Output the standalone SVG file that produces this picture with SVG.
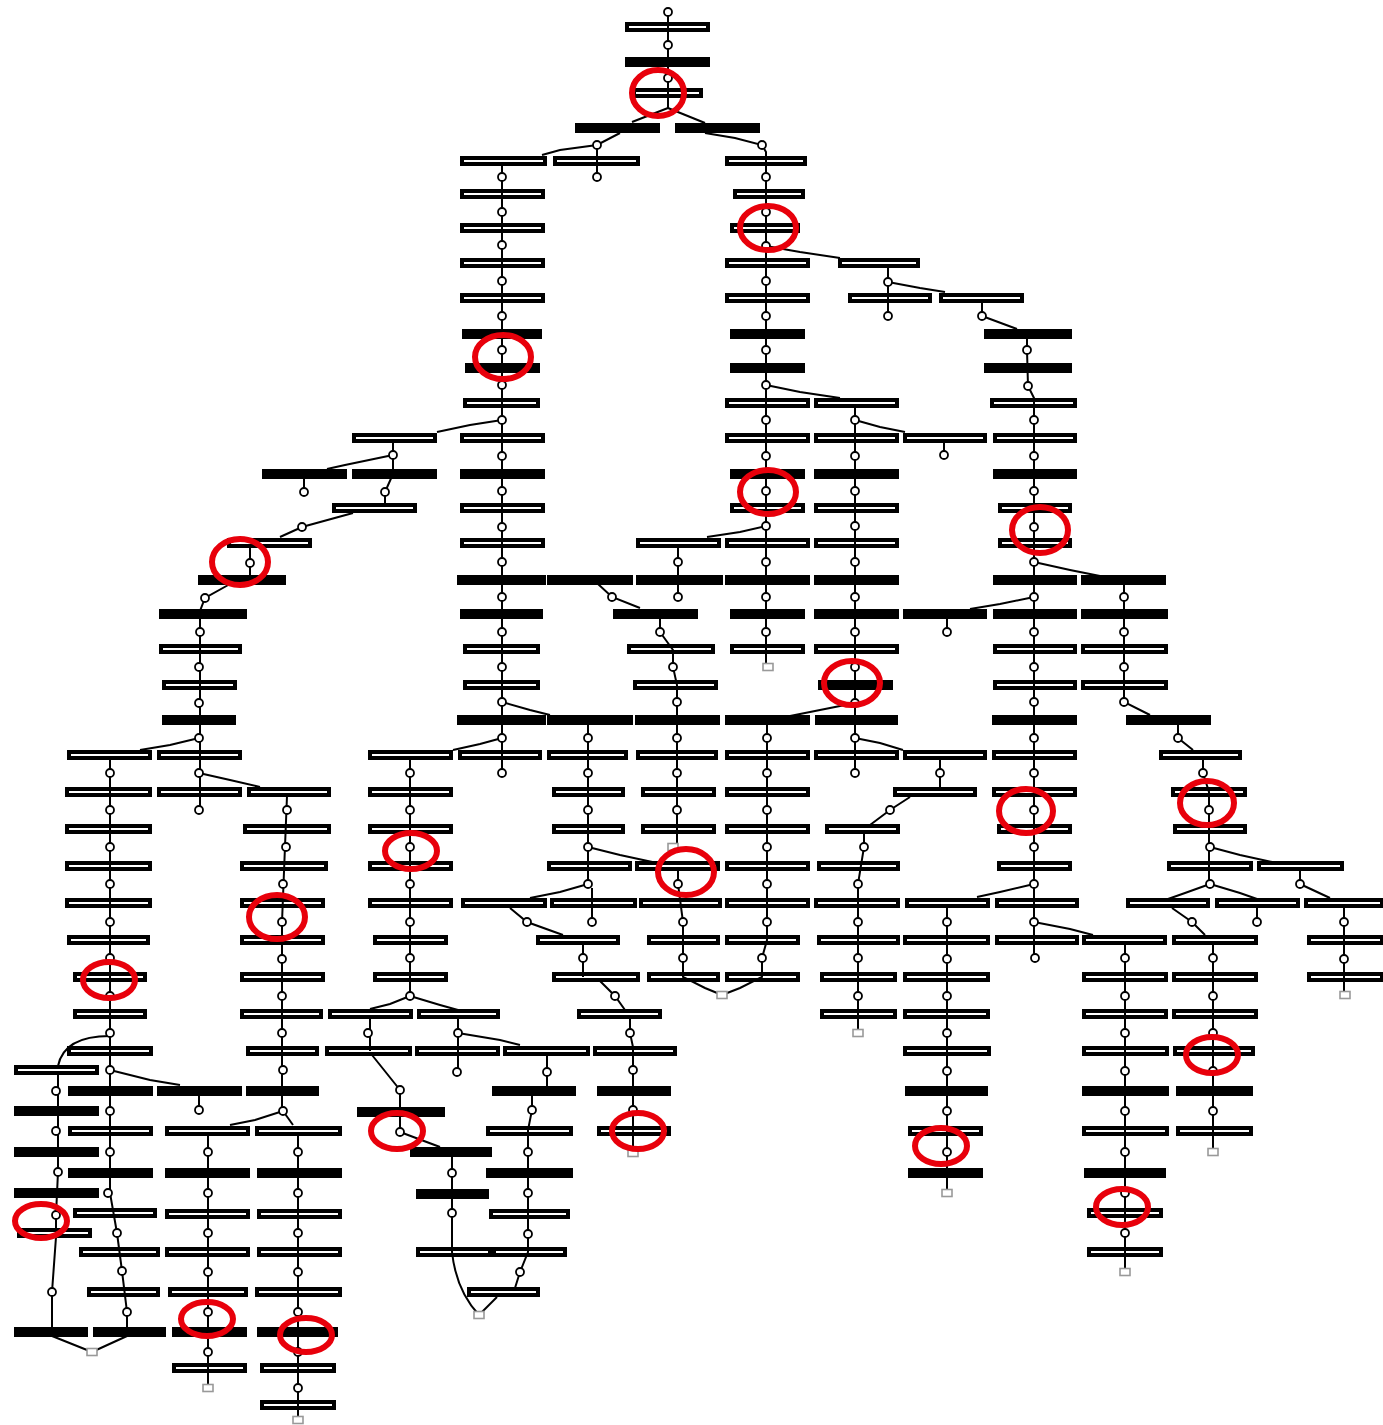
<svg xmlns="http://www.w3.org/2000/svg" xmlns:xlink="http://www.w3.org/1999/xlink" width="1383" height="1425" viewBox="0 0 1383 1425">
<style>
.h{fill:#fff;stroke:#000;stroke-width:4}
.f{fill:#000;stroke:#000;stroke-width:4}
#conn path{fill:none;stroke:#000;stroke-width:2}
.nd{fill:#fff;stroke:#000;stroke-width:1.8}
.gt{fill:#fff;stroke:#999;stroke-width:1.6}
#marks ellipse{fill:none;stroke:#e8000b;stroke-width:6}
</style>
<defs>
<circle id="n" r="4" class="nd"/>
<rect id="g" x="-5" y="-3.5" width="10" height="7" class="gt"/>
</defs>
<rect width="1383" height="1425" fill="#fff"/>
<g id="bars">
<g id="b1"><rect class="h" x="627" y="24" width="81" height="6"/></g>
<g id="b2"><rect class="f" x="627" y="59" width="81" height="6"/></g>
<g id="b3"><rect class="h" x="634" y="90" width="67" height="6"/></g>
<g id="b4"><rect class="f" x="577" y="125" width="81" height="6"/></g>
<g id="b5"><rect class="f" x="677" y="125" width="81" height="6"/></g>
<g id="b6"><rect class="h" x="462" y="158" width="83" height="6"/></g>
<g id="b7"><rect class="h" x="555" y="158" width="83" height="6"/></g>
<g id="b8"><rect class="h" x="727" y="158" width="78" height="6"/></g>
<g id="b9"><rect class="h" x="462" y="191" width="81" height="6"/></g>
<g id="b10"><rect class="h" x="462" y="225" width="81" height="6"/></g>
<g id="b11"><rect class="h" x="462" y="260" width="81" height="6"/></g>
<g id="b12"><rect class="h" x="462" y="295" width="81" height="6"/></g>
<g id="b13"><rect class="f" x="464" y="331" width="76" height="6"/></g>
<g id="b14"><rect class="f" x="467" y="365" width="71" height="6"/></g>
<g id="b15"><rect class="h" x="465" y="400" width="73" height="6"/></g>
<g id="b16"><rect class="h" x="462" y="435" width="81" height="6"/></g>
<g id="b17"><rect class="f" x="462" y="471" width="81" height="6"/></g>
<g id="b18"><rect class="h" x="462" y="505" width="81" height="6"/></g>
<g id="b19"><rect class="h" x="462" y="540" width="81" height="6"/></g>
<g id="b20"><rect class="f" x="459" y="577" width="85" height="6"/></g>
<g id="b21"><rect class="f" x="549" y="577" width="82" height="6"/></g>
<g id="b22"><rect class="f" x="638" y="577" width="83" height="6"/></g>
<g id="b23"><rect class="f" x="462" y="611" width="79" height="6"/></g>
<g id="b24"><rect class="h" x="465" y="646" width="73" height="6"/></g>
<g id="b25"><rect class="h" x="465" y="682" width="73" height="6"/></g>
<g id="b26"><rect class="f" x="459" y="717" width="85" height="6"/></g>
<g id="b27"><rect class="f" x="549" y="717" width="82" height="6"/></g>
<g id="b28"><rect class="f" x="637" y="717" width="81" height="6"/></g>
<g id="b29"><rect class="h" x="460" y="752" width="80" height="6"/></g>
<g id="b30"><rect class="h" x="735" y="191" width="68" height="6"/></g>
<g id="b31"><rect class="h" x="732" y="225" width="66" height="6"/></g>
<g id="b32"><rect class="h" x="727" y="260" width="81" height="6"/></g>
<g id="b33"><rect class="h" x="727" y="295" width="81" height="6"/></g>
<g id="b34"><rect class="f" x="732" y="331" width="71" height="6"/></g>
<g id="b35"><rect class="f" x="732" y="365" width="71" height="6"/></g>
<g id="b36"><rect class="h" x="727" y="400" width="81" height="6"/></g>
<g id="b37"><rect class="h" x="727" y="435" width="81" height="6"/></g>
<g id="b38"><rect class="f" x="732" y="471" width="71" height="6"/></g>
<g id="b39"><rect class="h" x="732" y="505" width="71" height="6"/></g>
<g id="b40"><rect class="h" x="727" y="540" width="81" height="6"/></g>
<g id="b41"><rect class="f" x="727" y="577" width="81" height="6"/></g>
<g id="b42"><rect class="f" x="732" y="611" width="71" height="6"/></g>
<g id="b43"><rect class="h" x="732" y="646" width="71" height="6"/></g>
<g id="b44"><rect class="f" x="727" y="717" width="81" height="6"/></g>
<g id="b45"><rect class="h" x="727" y="752" width="81" height="6"/></g>
<g id="b46"><rect class="h" x="727" y="789" width="81" height="6"/></g>
<g id="b47"><rect class="h" x="727" y="826" width="81" height="6"/></g>
<g id="b48"><rect class="h" x="727" y="863" width="81" height="6"/></g>
<g id="b49"><rect class="h" x="727" y="900" width="81" height="6"/></g>
<g id="b50"><rect class="h" x="727" y="937" width="71" height="6"/></g>
<g id="b51"><rect class="h" x="727" y="974" width="71" height="6"/></g>
<g id="b52"><rect class="h" x="840" y="260" width="78" height="6"/></g>
<g id="b53"><rect class="h" x="850" y="295" width="80" height="6"/></g>
<g id="b54"><rect class="h" x="941" y="295" width="81" height="6"/></g>
<g id="b55"><rect class="h" x="816" y="400" width="81" height="6"/></g>
<g id="b56"><rect class="h" x="816" y="435" width="81" height="6"/></g>
<g id="b57"><rect class="f" x="816" y="471" width="81" height="6"/></g>
<g id="b58"><rect class="h" x="816" y="505" width="81" height="6"/></g>
<g id="b59"><rect class="h" x="816" y="540" width="81" height="6"/></g>
<g id="b60"><rect class="f" x="816" y="577" width="81" height="6"/></g>
<g id="b61"><rect class="f" x="816" y="611" width="81" height="6"/></g>
<g id="b62"><rect class="h" x="816" y="646" width="81" height="6"/></g>
<g id="b63"><rect class="f" x="820" y="682" width="71" height="6"/></g>
<g id="b64"><rect class="f" x="817" y="717" width="79" height="6"/></g>
<g id="b65"><rect class="h" x="816" y="752" width="81" height="6"/></g>
<g id="b66"><rect class="h" x="905" y="435" width="80" height="6"/></g>
<g id="b67"><rect class="f" x="986" y="331" width="84" height="6"/></g>
<g id="b68"><rect class="f" x="986" y="365" width="84" height="6"/></g>
<g id="b69"><rect class="h" x="992" y="400" width="83" height="6"/></g>
<g id="b70"><rect class="h" x="995" y="435" width="80" height="6"/></g>
<g id="b71"><rect class="f" x="995" y="471" width="80" height="6"/></g>
<g id="b72"><rect class="h" x="1000" y="505" width="70" height="6"/></g>
<g id="b73"><rect class="h" x="1000" y="540" width="70" height="6"/></g>
<g id="b74"><rect class="f" x="995" y="577" width="80" height="6"/></g>
<g id="b75"><rect class="f" x="1083" y="577" width="81" height="6"/></g>
<g id="b76"><rect class="f" x="905" y="611" width="80" height="6"/></g>
<g id="b77"><rect class="f" x="995" y="611" width="80" height="6"/></g>
<g id="b78"><rect class="f" x="1083" y="611" width="83" height="6"/></g>
<g id="b79"><rect class="h" x="995" y="646" width="80" height="6"/></g>
<g id="b80"><rect class="h" x="1083" y="646" width="83" height="6"/></g>
<g id="b81"><rect class="h" x="995" y="682" width="80" height="6"/></g>
<g id="b82"><rect class="h" x="1083" y="682" width="83" height="6"/></g>
<g id="b83"><rect class="f" x="994" y="717" width="81" height="6"/></g>
<g id="b84"><rect class="f" x="1128" y="717" width="81" height="6"/></g>
<g id="b85"><rect class="h" x="994" y="752" width="81" height="6"/></g>
<g id="b86"><rect class="h" x="994" y="789" width="81" height="6"/></g>
<g id="b87"><rect class="h" x="999" y="826" width="71" height="6"/></g>
<g id="b88"><rect class="h" x="999" y="863" width="71" height="6"/></g>
<g id="b89"><rect class="h" x="997" y="900" width="80" height="6"/></g>
<g id="b90"><rect class="h" x="997" y="937" width="80" height="6"/></g>
<g id="b91"><rect class="h" x="1161" y="752" width="79" height="6"/></g>
<g id="b92"><rect class="h" x="1173" y="789" width="72" height="6"/></g>
<g id="b93"><rect class="h" x="1175" y="826" width="70" height="6"/></g>
<g id="b94"><rect class="h" x="1169" y="863" width="82" height="6"/></g>
<g id="b95"><rect class="h" x="1259" y="863" width="83" height="6"/></g>
<g id="b96"><rect class="h" x="1128" y="900" width="80" height="6"/></g>
<g id="b97"><rect class="h" x="1217" y="900" width="81" height="6"/></g>
<g id="b98"><rect class="h" x="1306" y="900" width="76" height="6"/></g>
<g id="b99"><rect class="h" x="1084" y="937" width="81" height="6"/></g>
<g id="b100"><rect class="h" x="1174" y="937" width="82" height="6"/></g>
<g id="b101"><rect class="h" x="1309" y="937" width="73" height="6"/></g>
<g id="b102"><rect class="h" x="1309" y="974" width="73" height="6"/></g>
<g id="b103"><rect class="h" x="1084" y="974" width="82" height="6"/></g>
<g id="b104"><rect class="h" x="1084" y="1011" width="82" height="6"/></g>
<g id="b105"><rect class="h" x="1084" y="1048" width="83" height="6"/></g>
<g id="b106"><rect class="f" x="1084" y="1088" width="83" height="6"/></g>
<g id="b107"><rect class="h" x="1084" y="1128" width="83" height="6"/></g>
<g id="b108"><rect class="f" x="1086" y="1170" width="78" height="6"/></g>
<g id="b109"><rect class="h" x="1089" y="1210" width="72" height="6"/></g>
<g id="b110"><rect class="h" x="1089" y="1249" width="72" height="6"/></g>
<g id="b111"><rect class="h" x="1174" y="974" width="82" height="6"/></g>
<g id="b112"><rect class="h" x="1174" y="1011" width="82" height="6"/></g>
<g id="b113"><rect class="h" x="1175" y="1048" width="78" height="6"/></g>
<g id="b114"><rect class="f" x="1178" y="1088" width="73" height="6"/></g>
<g id="b115"><rect class="h" x="1178" y="1128" width="73" height="6"/></g>
<g id="b116"><rect class="h" x="905" y="752" width="80" height="6"/></g>
<g id="b117"><rect class="h" x="895" y="789" width="80" height="6"/></g>
<g id="b118"><rect class="h" x="907" y="900" width="81" height="6"/></g>
<g id="b119"><rect class="h" x="905" y="937" width="83" height="6"/></g>
<g id="b120"><rect class="h" x="905" y="974" width="83" height="6"/></g>
<g id="b121"><rect class="h" x="905" y="1011" width="83" height="6"/></g>
<g id="b122"><rect class="h" x="905" y="1048" width="84" height="6"/></g>
<g id="b123"><rect class="f" x="907" y="1088" width="79" height="6"/></g>
<g id="b124"><rect class="h" x="910" y="1128" width="71" height="6"/></g>
<g id="b125"><rect class="f" x="910" y="1170" width="71" height="6"/></g>
<g id="b126"><rect class="h" x="827" y="826" width="71" height="6"/></g>
<g id="b127"><rect class="h" x="819" y="863" width="79" height="6"/></g>
<g id="b128"><rect class="h" x="816" y="900" width="82" height="6"/></g>
<g id="b129"><rect class="h" x="819" y="937" width="79" height="6"/></g>
<g id="b130"><rect class="h" x="822" y="974" width="73" height="6"/></g>
<g id="b131"><rect class="h" x="822" y="1011" width="73" height="6"/></g>
<g id="b132"><rect class="f" x="615" y="611" width="81" height="6"/></g>
<g id="b133"><rect class="h" x="629" y="646" width="84" height="6"/></g>
<g id="b134"><rect class="h" x="635" y="682" width="81" height="6"/></g>
<g id="b135"><rect class="h" x="638" y="540" width="81" height="6"/></g>
<g id="b136"><rect class="h" x="549" y="752" width="77" height="6"/></g>
<g id="b137"><rect class="h" x="638" y="752" width="78" height="6"/></g>
<g id="b138"><rect class="h" x="554" y="789" width="69" height="6"/></g>
<g id="b139"><rect class="h" x="643" y="789" width="71" height="6"/></g>
<g id="b140"><rect class="h" x="554" y="826" width="69" height="6"/></g>
<g id="b141"><rect class="h" x="643" y="826" width="71" height="6"/></g>
<g id="b142"><rect class="h" x="549" y="863" width="81" height="6"/></g>
<g id="b143"><rect class="h" x="637" y="863" width="81" height="6"/></g>
<g id="b144"><rect class="h" x="463" y="900" width="82" height="6"/></g>
<g id="b145"><rect class="h" x="552" y="900" width="83" height="6"/></g>
<g id="b146"><rect class="h" x="641" y="900" width="79" height="6"/></g>
<g id="b147"><rect class="h" x="538" y="937" width="80" height="6"/></g>
<g id="b148"><rect class="h" x="649" y="937" width="69" height="6"/></g>
<g id="b149"><rect class="h" x="554" y="974" width="84" height="6"/></g>
<g id="b150"><rect class="h" x="649" y="974" width="69" height="6"/></g>
<g id="b151"><rect class="h" x="579" y="1011" width="81" height="6"/></g>
<g id="b152"><rect class="h" x="595" y="1048" width="80" height="6"/></g>
<g id="b153"><rect class="f" x="599" y="1088" width="70" height="6"/></g>
<g id="b154"><rect class="h" x="599" y="1128" width="70" height="6"/></g>
<g id="b155"><rect class="h" x="370" y="752" width="81" height="6"/></g>
<g id="b156"><rect class="h" x="370" y="789" width="81" height="6"/></g>
<g id="b157"><rect class="h" x="370" y="826" width="81" height="6"/></g>
<g id="b158"><rect class="h" x="370" y="863" width="81" height="6"/></g>
<g id="b159"><rect class="h" x="370" y="900" width="81" height="6"/></g>
<g id="b160"><rect class="h" x="375" y="937" width="71" height="6"/></g>
<g id="b161"><rect class="h" x="375" y="974" width="71" height="6"/></g>
<g id="b162"><rect class="h" x="330" y="1011" width="81" height="6"/></g>
<g id="b163"><rect class="h" x="419" y="1011" width="79" height="6"/></g>
<g id="b164"><rect class="h" x="327" y="1048" width="83" height="6"/></g>
<g id="b165"><rect class="h" x="417" y="1048" width="81" height="6"/></g>
<g id="b166"><rect class="h" x="505" y="1048" width="83" height="6"/></g>
<g id="b167"><rect class="f" x="359" y="1109" width="84" height="6"/></g>
<g id="b168"><rect class="f" x="412" y="1149" width="78" height="6"/></g>
<g id="b169"><rect class="f" x="418" y="1191" width="69" height="6"/></g>
<g id="b170"><rect class="h" x="418" y="1249" width="72" height="6"/></g>
<g id="b171"><rect class="h" x="494" y="1249" width="71" height="6"/></g>
<g id="b172"><rect class="h" x="469" y="1289" width="69" height="6"/></g>
<g id="b173"><rect class="f" x="494" y="1088" width="80" height="6"/></g>
<g id="b174"><rect class="h" x="488" y="1128" width="83" height="6"/></g>
<g id="b175"><rect class="f" x="488" y="1170" width="83" height="6"/></g>
<g id="b176"><rect class="h" x="491" y="1211" width="77" height="6"/></g>
<g id="b177"><rect class="h" x="354" y="435" width="81" height="6"/></g>
<g id="b178"><rect class="f" x="264" y="471" width="81" height="6"/></g>
<g id="b179"><rect class="f" x="354" y="471" width="81" height="6"/></g>
<g id="b180"><rect class="h" x="334" y="505" width="81" height="6"/></g>
<g id="b181"><rect class="h" x="229" y="540" width="81" height="6"/></g>
<g id="b182"><rect class="f" x="200" y="577" width="84" height="6"/></g>
<g id="b183"><rect class="f" x="161" y="611" width="84" height="6"/></g>
<g id="b184"><rect class="h" x="161" y="646" width="79" height="6"/></g>
<g id="b185"><rect class="h" x="164" y="682" width="71" height="6"/></g>
<g id="b186"><rect class="f" x="164" y="717" width="70" height="6"/></g>
<g id="b187"><rect class="h" x="69" y="752" width="81" height="6"/></g>
<g id="b188"><rect class="h" x="159" y="752" width="81" height="6"/></g>
<g id="b189"><rect class="h" x="67" y="789" width="83" height="6"/></g>
<g id="b190"><rect class="h" x="159" y="789" width="81" height="6"/></g>
<g id="b191"><rect class="h" x="249" y="789" width="80" height="6"/></g>
<g id="b192"><rect class="h" x="67" y="826" width="83" height="6"/></g>
<g id="b193"><rect class="h" x="67" y="863" width="83" height="6"/></g>
<g id="b194"><rect class="h" x="67" y="900" width="83" height="6"/></g>
<g id="b195"><rect class="h" x="69" y="937" width="79" height="6"/></g>
<g id="b196"><rect class="h" x="75" y="974" width="70" height="6"/></g>
<g id="b197"><rect class="h" x="75" y="1011" width="70" height="6"/></g>
<g id="b198"><rect class="h" x="69" y="1048" width="82" height="6"/></g>
<g id="b199"><rect class="f" x="70" y="1088" width="81" height="6"/></g>
<g id="b200"><rect class="f" x="159" y="1088" width="81" height="6"/></g>
<g id="b201"><rect class="f" x="248" y="1088" width="69" height="6"/></g>
<g id="b202"><rect class="h" x="70" y="1128" width="81" height="6"/></g>
<g id="b203"><rect class="f" x="70" y="1170" width="81" height="6"/></g>
<g id="b204"><rect class="h" x="75" y="1210" width="80" height="6"/></g>
<g id="b205"><rect class="h" x="81" y="1249" width="77" height="6"/></g>
<g id="b206"><rect class="h" x="89" y="1289" width="69" height="6"/></g>
<g id="b207"><rect class="f" x="95" y="1329" width="69" height="6"/></g>
<g id="b208"><rect class="h" x="16" y="1067" width="81" height="6"/></g>
<g id="b209"><rect class="f" x="16" y="1108" width="81" height="6"/></g>
<g id="b210"><rect class="f" x="16" y="1149" width="81" height="6"/></g>
<g id="b211"><rect class="f" x="16" y="1190" width="81" height="6"/></g>
<g id="b212"><rect class="h" x="19" y="1230" width="71" height="6"/></g>
<g id="b213"><rect class="f" x="16" y="1329" width="70" height="6"/></g>
<g id="b214"><rect class="h" x="245" y="826" width="84" height="6"/></g>
<g id="b215"><rect class="h" x="242" y="863" width="84" height="6"/></g>
<g id="b216"><rect class="h" x="242" y="900" width="81" height="6"/></g>
<g id="b217"><rect class="h" x="242" y="937" width="81" height="6"/></g>
<g id="b218"><rect class="h" x="242" y="974" width="81" height="6"/></g>
<g id="b219"><rect class="h" x="242" y="1011" width="79" height="6"/></g>
<g id="b220"><rect class="h" x="248" y="1048" width="69" height="6"/></g>
<g id="b221"><rect class="h" x="167" y="1128" width="81" height="6"/></g>
<g id="b222"><rect class="h" x="257" y="1128" width="83" height="6"/></g>
<g id="b223"><rect class="f" x="167" y="1170" width="81" height="6"/></g>
<g id="b224"><rect class="f" x="259" y="1170" width="81" height="6"/></g>
<g id="b225"><rect class="h" x="167" y="1211" width="81" height="6"/></g>
<g id="b226"><rect class="h" x="259" y="1211" width="81" height="6"/></g>
<g id="b227"><rect class="h" x="167" y="1249" width="81" height="6"/></g>
<g id="b228"><rect class="h" x="259" y="1249" width="81" height="6"/></g>
<g id="b229"><rect class="h" x="170" y="1289" width="76" height="6"/></g>
<g id="b230"><rect class="h" x="257" y="1289" width="83" height="6"/></g>
<g id="b231"><rect class="f" x="174" y="1329" width="71" height="6"/></g>
<g id="b232"><rect class="f" x="259" y="1329" width="77" height="6"/></g>
<g id="b233"><rect class="h" x="174" y="1365" width="71" height="6"/></g>
<g id="b234"><rect class="h" x="262" y="1365" width="72" height="6"/></g>
<g id="b235"><rect class="h" x="262" y="1402" width="72" height="6"/></g>
</g>
<g id="conn">
<path d="M668,12V108L632,122"/>
<path d="M668,108L705,123"/>
<path d="M620,133L597,145L560,150L542,155"/>
<path d="M597,145V177"/>
<path d="M705,133L735,138L762,145L766,152V667"/>
<path d="M766,246L800,252L840,258"/>
<path d="M888,266V316"/>
<path d="M888,282L920,288L945,292"/>
<path d="M982,302V316L1017,329"/>
<path d="M1027,338V350L1028,386L1034,398V958"/>
<path d="M766,385L800,392L840,398"/>
<path d="M855,406V773"/>
<path d="M855,420L880,427L905,432"/>
<path d="M944,442V455"/>
<path d="M766,526L740,532L707,537"/>
<path d="M678,546V597"/>
<path d="M598,584L612,597L640,608"/>
<path d="M660,618V632L673,650V667L677,685V847"/>
<path d="M502,165V773"/>
<path d="M502,420L470,425L437,432"/>
<path d="M393,442V474L385,492V504"/>
<path d="M393,455L345,465L327,469"/>
<path d="M304,478V492"/>
<path d="M353,513L302,527L280,537"/>
<path d="M250,547V576"/>
<path d="M230,584L205,598L200,611V810"/>
<path d="M199,738L170,745L140,750"/>
<path d="M110,759V1193L117,1233L122,1271L127,1312V1336L92,1352"/>
<path d="M199,773L230,780L260,787"/>
<path d="M287,796L282,922V1111"/>
<path d="M283,1111L255,1120L230,1125"/>
<path d="M283,1111L293,1125"/>
<path d="M208,1135V1388"/>
<path d="M298,1135V1420"/>
<path d="M110,1036Q64,1036 58,1066"/>
<path d="M58,1074V1172L56,1215V1237L52,1292V1336L92,1352"/>
<path d="M110,1070L150,1080L180,1085"/>
<path d="M199,1095V1110"/>
<path d="M502,738L480,744L453,750"/>
<path d="M410,759V996"/>
<path d="M410,996L390,1004L370,1009"/>
<path d="M410,996L440,1005L458,1010"/>
<path d="M370,1018V1051"/>
<path d="M458,1018V1072"/>
<path d="M458,1033L500,1040L520,1045"/>
<path d="M372,1055L400,1090V1108"/>
<path d="M400,1116V1132L440,1147"/>
<path d="M452,1156V1252C455,1280 465,1300 479,1315"/>
<path d="M497,1297L479,1315"/>
<path d="M547,1055V1087"/>
<path d="M532,1095V1110L528,1130V1252L520,1272L515,1288"/>
<path d="M502,702L530,710L550,715"/>
<path d="M588,724V884"/>
<path d="M588,847L620,855L657,863"/>
<path d="M678,870V884L683,922V977L705,988L722,995"/>
<path d="M767,724V940L762,958V977L740,988L722,995"/>
<path d="M588,884L560,892L530,898"/>
<path d="M592,888V922"/>
<path d="M510,908L527,922L563,935"/>
<path d="M583,944V977"/>
<path d="M600,981L615,996L625,1010"/>
<path d="M630,1018V1033L633,1047V1153"/>
<path d="M855,703L820,710L790,716"/>
<path d="M855,738L880,743L903,750"/>
<path d="M940,759V788"/>
<path d="M910,797L890,810L870,825"/>
<path d="M864,833V847L858,884V1033"/>
<path d="M1034,562L1070,570L1100,576"/>
<path d="M1124,584V702L1150,715"/>
<path d="M1178,724V738L1193,750"/>
<path d="M1203,759V773L1209,792V884"/>
<path d="M1034,597L1000,604L970,609"/>
<path d="M947,619V632"/>
<path d="M1210,847L1240,855L1272,862"/>
<path d="M1300,870V884L1330,898"/>
<path d="M1344,907V995"/>
<path d="M1210,884L1185,893L1168,899"/>
<path d="M1210,884L1240,893L1257,899"/>
<path d="M1257,907V922"/>
<path d="M1172,908L1192,922L1205,935"/>
<path d="M1213,944V1152"/>
<path d="M1034,884L1000,892L977,897"/>
<path d="M947,907V1193"/>
<path d="M1034,922L1070,929L1093,935"/>
<path d="M1125,944V1272"/>
</g>
<g id="ports">
<use href="#n" x="668" y="12"/><use href="#n" x="668" y="45"/><use href="#n" x="668" y="78"/>
<use href="#n" x="597" y="145"/><use href="#n" x="597" y="177"/><use href="#n" x="762" y="145"/>
<use href="#n" x="766" y="177"/><use href="#n" x="766" y="212"/><use href="#n" x="766" y="246"/><use href="#n" x="766" y="281"/><use href="#n" x="766" y="316"/><use href="#n" x="766" y="350"/><use href="#n" x="766" y="385"/><use href="#n" x="766" y="420"/><use href="#n" x="766" y="456"/><use href="#n" x="766" y="491"/><use href="#n" x="766" y="526"/><use href="#n" x="766" y="562"/><use href="#n" x="766" y="597"/><use href="#n" x="766" y="632"/>
<use href="#n" x="888" y="282"/><use href="#n" x="888" y="316"/><use href="#n" x="982" y="316"/><use href="#n" x="1027" y="350"/><use href="#n" x="1028" y="386"/>
<use href="#n" x="1034" y="420"/><use href="#n" x="1034" y="456"/><use href="#n" x="1034" y="491"/><use href="#n" x="1034" y="527"/><use href="#n" x="1034" y="562"/><use href="#n" x="1034" y="597"/><use href="#n" x="1034" y="632"/><use href="#n" x="1034" y="667"/><use href="#n" x="1034" y="702"/><use href="#n" x="1034" y="738"/><use href="#n" x="1034" y="773"/><use href="#n" x="1034" y="810"/><use href="#n" x="1034" y="847"/><use href="#n" x="1034" y="884"/><use href="#n" x="1034" y="922"/><use href="#n" x="1035" y="958"/>
<use href="#n" x="855" y="420"/><use href="#n" x="855" y="456"/><use href="#n" x="855" y="491"/><use href="#n" x="855" y="526"/><use href="#n" x="855" y="562"/><use href="#n" x="855" y="597"/><use href="#n" x="855" y="632"/><use href="#n" x="855" y="667"/><use href="#n" x="855" y="703"/><use href="#n" x="855" y="738"/><use href="#n" x="855" y="773"/>
<use href="#n" x="944" y="455"/><use href="#n" x="947" y="632"/>
<use href="#n" x="1124" y="597"/><use href="#n" x="1124" y="632"/><use href="#n" x="1124" y="667"/><use href="#n" x="1124" y="702"/><use href="#n" x="1178" y="738"/><use href="#n" x="1203" y="773"/><use href="#n" x="1209" y="810"/><use href="#n" x="1210" y="847"/><use href="#n" x="1210" y="884"/><use href="#n" x="1300" y="884"/><use href="#n" x="1192" y="922"/><use href="#n" x="1257" y="922"/><use href="#n" x="1344" y="922"/><use href="#n" x="1344" y="959"/>
<use href="#n" x="1125" y="958"/><use href="#n" x="1125" y="996"/><use href="#n" x="1125" y="1033"/><use href="#n" x="1125" y="1071"/><use href="#n" x="1125" y="1111"/><use href="#n" x="1125" y="1152"/><use href="#n" x="1125" y="1193"/><use href="#n" x="1125" y="1233"/>
<use href="#n" x="1213" y="958"/><use href="#n" x="1213" y="996"/><use href="#n" x="1213" y="1033"/><use href="#n" x="1213" y="1071"/><use href="#n" x="1213" y="1111"/>
<use href="#n" x="947" y="922"/><use href="#n" x="947" y="959"/><use href="#n" x="947" y="996"/><use href="#n" x="947" y="1033"/><use href="#n" x="947" y="1071"/><use href="#n" x="947" y="1111"/><use href="#n" x="947" y="1152"/>
<use href="#n" x="940" y="773"/><use href="#n" x="890" y="810"/><use href="#n" x="864" y="847"/><use href="#n" x="858" y="884"/><use href="#n" x="858" y="922"/><use href="#n" x="858" y="958"/><use href="#n" x="858" y="996"/>
<use href="#n" x="502" y="177"/><use href="#n" x="502" y="212"/><use href="#n" x="502" y="245"/><use href="#n" x="502" y="281"/><use href="#n" x="502" y="316"/><use href="#n" x="502" y="350"/><use href="#n" x="502" y="385"/><use href="#n" x="502" y="420"/><use href="#n" x="502" y="456"/><use href="#n" x="502" y="491"/><use href="#n" x="502" y="527"/><use href="#n" x="502" y="562"/><use href="#n" x="502" y="597"/><use href="#n" x="502" y="632"/><use href="#n" x="502" y="667"/><use href="#n" x="502" y="702"/><use href="#n" x="502" y="738"/><use href="#n" x="502" y="773"/>
<use href="#n" x="678" y="562"/><use href="#n" x="678" y="597"/><use href="#n" x="612" y="597"/><use href="#n" x="660" y="632"/><use href="#n" x="673" y="667"/><use href="#n" x="677" y="702"/><use href="#n" x="677" y="738"/><use href="#n" x="677" y="773"/><use href="#n" x="677" y="810"/>
<use href="#n" x="588" y="738"/><use href="#n" x="588" y="773"/><use href="#n" x="588" y="810"/><use href="#n" x="588" y="847"/><use href="#n" x="588" y="884"/><use href="#n" x="592" y="922"/><use href="#n" x="527" y="922"/><use href="#n" x="583" y="958"/><use href="#n" x="615" y="996"/><use href="#n" x="630" y="1033"/><use href="#n" x="633" y="1070"/><use href="#n" x="633" y="1110"/>
<use href="#n" x="678" y="884"/><use href="#n" x="683" y="922"/><use href="#n" x="683" y="958"/>
<use href="#n" x="767" y="738"/><use href="#n" x="767" y="773"/><use href="#n" x="767" y="810"/><use href="#n" x="767" y="847"/><use href="#n" x="767" y="884"/><use href="#n" x="767" y="922"/><use href="#n" x="762" y="958"/>
<use href="#n" x="393" y="455"/><use href="#n" x="385" y="492"/><use href="#n" x="304" y="492"/><use href="#n" x="302" y="527"/><use href="#n" x="250" y="563"/><use href="#n" x="205" y="598"/><use href="#n" x="200" y="632"/><use href="#n" x="199" y="667"/><use href="#n" x="199" y="703"/><use href="#n" x="199" y="738"/><use href="#n" x="199" y="773"/><use href="#n" x="199" y="810"/>
<use href="#n" x="110" y="773"/><use href="#n" x="110" y="810"/><use href="#n" x="110" y="847"/><use href="#n" x="110" y="884"/><use href="#n" x="110" y="922"/><use href="#n" x="110" y="958"/><use href="#n" x="110" y="996"/><use href="#n" x="110" y="1033"/><use href="#n" x="110" y="1070"/><use href="#n" x="110" y="1111"/><use href="#n" x="110" y="1152"/><use href="#n" x="108" y="1193"/><use href="#n" x="117" y="1233"/><use href="#n" x="122" y="1271"/><use href="#n" x="127" y="1312"/>
<use href="#n" x="199" y="1110"/>
<use href="#n" x="56" y="1091"/><use href="#n" x="56" y="1131"/><use href="#n" x="58" y="1172"/><use href="#n" x="56" y="1215"/><use href="#n" x="52" y="1292"/>
<use href="#n" x="287" y="810"/><use href="#n" x="286" y="847"/><use href="#n" x="283" y="884"/><use href="#n" x="282" y="922"/><use href="#n" x="282" y="959"/><use href="#n" x="282" y="996"/><use href="#n" x="282" y="1033"/><use href="#n" x="283" y="1070"/><use href="#n" x="283" y="1111"/>
<use href="#n" x="208" y="1152"/><use href="#n" x="208" y="1193"/><use href="#n" x="208" y="1233"/><use href="#n" x="208" y="1272"/><use href="#n" x="208" y="1312"/><use href="#n" x="208" y="1352"/>
<use href="#n" x="298" y="1152"/><use href="#n" x="298" y="1193"/><use href="#n" x="298" y="1233"/><use href="#n" x="298" y="1272"/><use href="#n" x="298" y="1312"/><use href="#n" x="298" y="1352"/><use href="#n" x="298" y="1388"/>
<use href="#n" x="410" y="773"/><use href="#n" x="410" y="810"/><use href="#n" x="410" y="847"/><use href="#n" x="410" y="884"/><use href="#n" x="410" y="922"/><use href="#n" x="410" y="958"/><use href="#n" x="410" y="996"/><use href="#n" x="368" y="1033"/><use href="#n" x="458" y="1033"/><use href="#n" x="457" y="1072"/><use href="#n" x="400" y="1090"/><use href="#n" x="400" y="1132"/><use href="#n" x="452" y="1173"/><use href="#n" x="452" y="1213"/>
<use href="#n" x="547" y="1072"/><use href="#n" x="532" y="1110"/><use href="#n" x="528" y="1152"/><use href="#n" x="528" y="1193"/><use href="#n" x="528" y="1234"/><use href="#n" x="520" y="1272"/>
<use href="#g" x="768" y="667"/><use href="#g" x="1345" y="995"/><use href="#g" x="1125" y="1272"/><use href="#g" x="1213" y="1152"/><use href="#g" x="947" y="1193"/><use href="#g" x="858" y="1033"/><use href="#g" x="673" y="847"/><use href="#g" x="633" y="1153"/><use href="#g" x="722" y="995"/><use href="#g" x="92" y="1352"/><use href="#g" x="208" y="1388"/><use href="#g" x="298" y="1420"/><use href="#g" x="479" y="1315"/>
</g>
<g id="marks">
<ellipse cx="658" cy="93" rx="26" ry="23"/>
<ellipse cx="768" cy="228" rx="28" ry="22"/>
<ellipse cx="503" cy="357" rx="28" ry="22"/>
<ellipse cx="768" cy="492" rx="28" ry="22"/>
<ellipse cx="1040" cy="530" rx="28" ry="23"/>
<ellipse cx="240" cy="562" rx="28" ry="23"/>
<ellipse cx="852" cy="683" rx="28" ry="22"/>
<ellipse cx="1026" cy="811" rx="27" ry="22"/>
<ellipse cx="1207" cy="803" rx="27" ry="22"/>
<ellipse cx="411" cy="851" rx="26" ry="18"/>
<ellipse cx="686" cy="872" rx="28" ry="23"/>
<ellipse cx="277" cy="917" rx="28" ry="22"/>
<ellipse cx="109" cy="980" rx="26" ry="18"/>
<ellipse cx="1212" cy="1055" rx="26" ry="18"/>
<ellipse cx="397" cy="1131" rx="26" ry="18"/>
<ellipse cx="638" cy="1131" rx="26" ry="18"/>
<ellipse cx="941" cy="1146" rx="26" ry="18"/>
<ellipse cx="1122" cy="1207" rx="26" ry="18"/>
<ellipse cx="41" cy="1221" rx="26" ry="17"/>
<ellipse cx="207" cy="1319" rx="26" ry="17"/>
<ellipse cx="306" cy="1335" rx="26" ry="17"/>
</g>
</svg>
